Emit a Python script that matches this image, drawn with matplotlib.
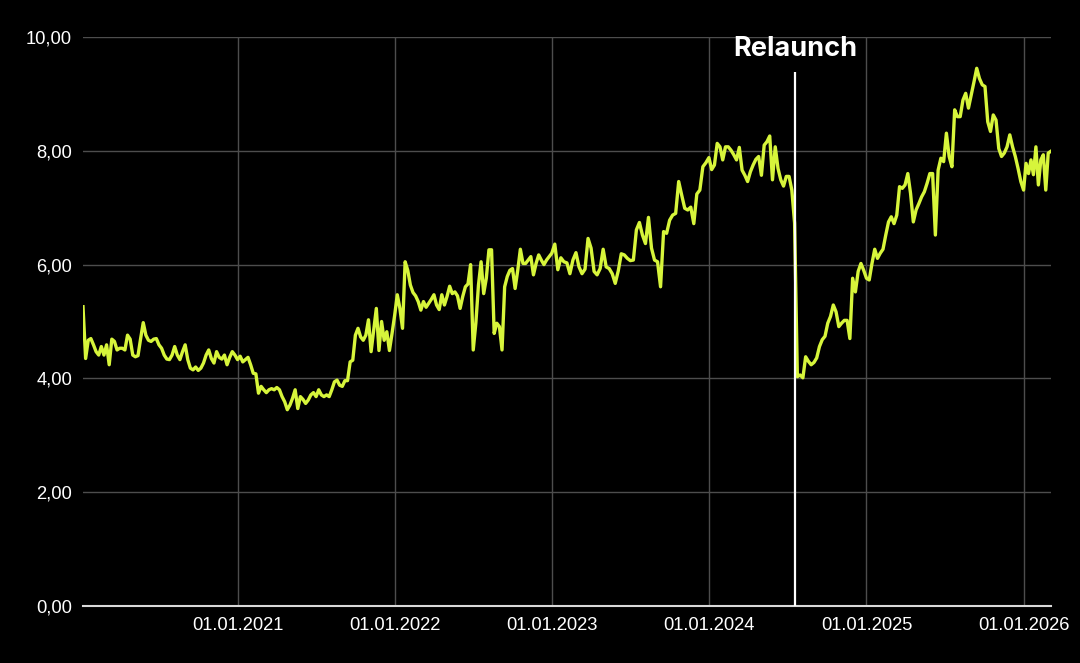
import numpy as np
import pandas as pd
import matplotlib
matplotlib.use("Agg")
import matplotlib.pyplot as plt
import matplotlib.dates as mdates
from matplotlib.ticker import FuncFormatter

# values, one list per calendar year
vals_2020 = [5.26, 4.35, 4.67, 4.70, 4.59, 4.47, 4.41, 4.56, 4.41, 4.59, 4.24, 4.69, 4.65, 4.50,
             4.53, 4.53, 4.50, 4.76, 4.69, 4.41, 4.38, 4.40, 4.70, 4.98, 4.76, 4.67, 4.65, 4.69,
             4.70, 4.59, 4.53, 4.41, 4.34, 4.33, 4.41, 4.56, 4.41, 4.33, 4.47, 4.59, 4.33, 4.18,
             4.15, 4.20, 4.14, 4.18, 4.27, 4.41, 4.50, 4.35, 4.27, 4.47, 4.37, 4.34, 4.41, 4.24,
             4.37, 4.47, 4.41]
vals_2021 = [4.33, 4.39, 4.29, 4.33, 4.37, 4.24, 4.09, 4.08, 3.74, 3.86, 3.80, 3.75, 3.80, 3.82,
             3.80, 3.84, 3.80, 3.68, 3.59, 3.45, 3.53, 3.65, 3.80, 3.47, 3.68, 3.63, 3.56, 3.62,
             3.71, 3.75, 3.68, 3.80, 3.71, 3.68, 3.71, 3.68, 3.80, 3.94, 3.97, 3.88, 3.86, 3.96,
             3.96, 4.29, 4.32, 4.76, 4.88, 4.73, 4.67, 4.76, 5.03, 4.47, 4.85, 5.23, 4.49, 5.00,
             4.67, 4.82, 4.49, 4.79]
vals_2022 = [5.11, 5.47, 5.23, 4.88, 6.05, 5.90, 5.64, 5.51, 5.45, 5.35, 5.20, 5.35, 5.25, 5.32,
             5.39, 5.47, 5.29, 5.21, 5.47, 5.29, 5.44, 5.62, 5.49, 5.52, 5.45, 5.23, 5.44, 5.61,
             5.66, 6.00, 4.50, 4.97, 5.64, 6.05, 5.49, 5.76, 6.26, 6.26, 4.79, 4.97, 4.91, 4.50,
             5.61, 5.79, 5.90, 5.93, 5.58, 5.90, 6.27, 6.02, 6.02, 6.08, 6.14, 5.82, 6.02, 6.17,
             6.08, 6.00, 6.08, 6.14]
vals_2023 = [6.20, 6.36, 5.91, 6.12, 6.05, 6.03, 5.84, 6.08, 6.21, 5.96, 5.84, 5.92, 6.46, 6.29,
             5.88, 5.82, 5.93, 6.27, 5.96, 5.93, 5.84, 5.67, 5.89, 6.19, 6.17, 6.11, 6.07, 6.08,
             6.61, 6.74, 6.52, 6.37, 6.83, 6.29, 6.08, 6.05, 5.61, 6.58, 6.55, 6.78, 6.87, 6.90,
             7.46, 7.22, 6.99, 6.96, 7.01, 6.72, 7.24, 7.31, 7.72, 7.79]
vals_2024 = [7.88, 7.67, 7.75, 8.13, 8.07, 7.84, 8.07, 8.07, 8.01, 7.93, 7.84, 8.06, 7.66, 7.57,
             7.46, 7.63, 7.75, 7.85, 7.90, 7.57, 8.10, 8.16, 8.26, 7.49, 8.07, 7.69, 7.49, 7.38,
             7.55, 7.55, 7.31, 6.73, 4.03, 4.06, 4.01, 4.38, 4.30, 4.24, 4.28, 4.36, 4.56, 4.68,
             4.74, 4.97, 5.09, 5.29, 5.17, 4.91, 4.97, 5.02, 5.02, 4.70, 5.76, 5.52, 5.88, 6.02,
             5.90]
vals_2025 = [5.76, 5.73, 6.02, 6.27, 6.11, 6.20, 6.27, 6.52, 6.75, 6.84, 6.72, 6.87, 7.37, 7.34,
             7.40, 7.60, 7.25, 6.75, 6.96, 7.07, 7.19, 7.28, 7.43, 7.60, 7.60, 6.52, 7.66, 7.87,
             7.81, 8.31, 7.90, 7.72, 8.72, 8.60, 8.60, 8.89, 9.01, 8.75, 8.98, 9.21, 9.45, 9.27,
             9.16, 9.13, 8.51, 8.34, 8.63, 8.54, 8.04, 7.90, 7.96, 8.07, 8.28, 8.07, 7.90, 7.69,
             7.46]
vals_2026 = [7.31, 7.78, 7.60, 7.84, 7.58, 8.07, 7.40, 7.84, 7.93, 7.31, 7.96, 7.99]

segments = [vals_2020, vals_2021, vals_2022, vals_2023, vals_2024, vals_2025, vals_2026]
bounds = ["2020-01-08", "2021-01-01", "2022-01-01", "2023-01-01", "2024-01-01",
          "2025-01-01", "2026-01-01", "2026-03-05"]

relaunch = pd.Timestamp("2024-07-20")
year_ticks = pd.to_datetime(["2021-01-01", "2022-01-01", "2023-01-01",
                             "2024-01-01", "2025-01-01", "2026-01-01"])
y_ticks = [0, 2, 4, 6, 8, 10]

# spread each year's readings evenly across that year
dates, values = [], []
for i, seg in enumerate(segments):
    last = i == len(segments) - 1
    d = pd.date_range(bounds[i], bounds[i + 1], periods=len(seg) + (0 if last else 1))
    if not last:
        d = d[:-1]
    dates.extend(d)
    values.extend(seg)

plt.rcParams['font.family'] = ['Liberation Sans', 'DejaVu Sans']

fig = plt.figure(figsize=(10.8, 6.63), dpi=100, facecolor='black')
ax = fig.add_axes([83 / 1080, 57 / 663, 967.7 / 1080, 569 / 663])
ax.set_facecolor('black')

ax.plot(dates, values, color='#d7f53b', lw=2.4, zorder=2)
ax.vlines(relaunch, 0, 9.38, color='white', lw=1.6, zorder=3)
ax.text(relaunch, 9.67, "Relaunch", ha='center', va='baseline', color='white',
        fontsize=19.5, fontweight='bold', family=['Inter', 'DejaVu Sans'], clip_on=False)

ax.set_xlim(pd.Timestamp(bounds[0]), pd.Timestamp(bounds[-1]))
ax.set_ylim(0, 10)
ax.set_xticks(year_ticks)
ax.xaxis.set_major_formatter(mdates.DateFormatter('%d.%m.%Y'))
ax.set_yticks(y_ticks)
ax.yaxis.set_major_formatter(FuncFormatter(lambda v, _: f"{v:.2f}".replace('.', ',')))

ax.grid(color='#4d4d4d', lw=1)
ax.set_axisbelow(True)
for side in ['top', 'right', 'left']:
    ax.spines[side].set_visible(False)
ax.spines['bottom'].set_color('#d9d9d9')
ax.spines['bottom'].set_linewidth(1.5)
ax.tick_params(axis='both', length=0, labelcolor='white', labelsize=13.2)
ax.tick_params(axis='y', pad=8)
ax.tick_params(axis='x', pad=8)

fig.savefig('out.png', dpi=100, facecolor='black')
